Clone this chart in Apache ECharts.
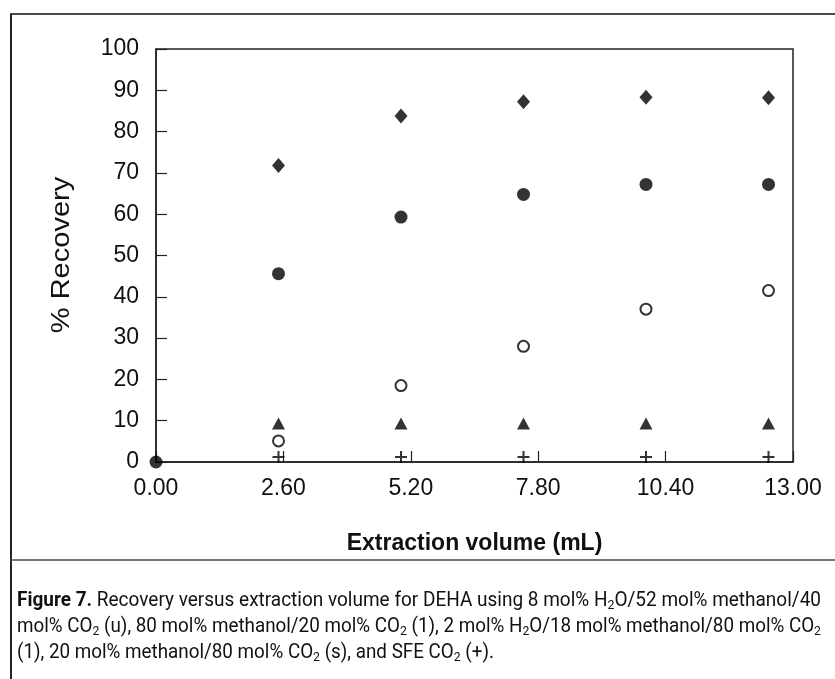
<!DOCTYPE html>
<html>
<head>
<meta charset="utf-8">
<script src="https://cdn.jsdelivr.net/npm/echarts@6/dist/echarts.min.js"></script>
<style>
  html, body { margin: 0; padding: 0; background: #fff; }
  #wrap { position: relative; width: 835px; height: 679px; overflow: hidden; }
  #chart { position: absolute; left: 0; top: 0; width: 835px; height: 679px; }
  #caption { position: absolute; left: 17px; width: 804px; top: 586px;
    font-family: Roboto, "Liberation Sans", sans-serif;
    font-size: 20px; line-height: 26px; color: #111; }
  #caption .ln { display: block; height: 26px; white-space: nowrap; }
  #caption .ln span { display: inline-block; transform-origin: 0 0; white-space: nowrap; }
  #caption sub { font-size: 13px; vertical-align: -3px; line-height: 0; }
</style>
</head>
<body>
<div id="wrap">
  <div id="chart"></div>
  <div id="caption">
    <div class="ln"><span><b>Figure 7.</b> Recovery versus extraction volume for DEHA using 8 mol% H<sub>2</sub>O/52 mol% methanol/40</span></div>
    <div class="ln"><span>mol% CO<sub>2</sub> (u), 80 mol% methanol/20 mol% CO<sub>2</sub> (1), 2 mol% H<sub>2</sub>O/18 mol% methanol/80 mol% CO<sub>2</sub></span></div>
    <div class="ln"><span>(1), 20 mol% methanol/80 mol% CO<sub>2</sub> (s), and SFE CO<sub>2</sub> (+).</span></div>
  </div>
</div>
<script>
// Data
const xTicksInterval = 2.6;
const xMax = 13;
const volumes = [2.5, 5.0, 7.5, 10.0, 12.5];
const seriesNames = [
  '8 mol% H2O/52 mol% methanol/40 mol% CO2',
  '80 mol% methanol/20 mol% CO2',
  '2 mol% H2O/18 mol% methanol/80 mol% CO2',
  '20 mol% methanol/80 mol% CO2',
  'SFE CO2'
];
const diamondVals = [71.8, 83.8, 87.2, 88.3, 88.2];
const filledCircleVals = [45.6, 59.3, 64.8, 67.2, 67.2];
const openCircleVals = [5.1, 18.5, 28.0, 37.0, 41.5];
const triangleVals = [9.3, 9.3, 9.3, 9.3, 9.3];
const plusVals = [1.2, 1.2, 1.2, 1.2, 1.2];
const originPoint = [0, 0];
const yAxisTitle = '% Recovery';
const xAxisTitle = 'Extraction volume (mL)';

function pairs(vals) { return volumes.map((v, i) => [v, vals[i]]); }

const chart = echarts.init(document.getElementById('chart'), null, { renderer: 'canvas' });
const FONT = '"Liberation Sans", Arial, Helvetica, sans-serif';
const plusPath = 'path://M5,0H7V5H12V7H7V12H5V7H0V5H5Z';

chart.setOption({
  animation: false,
  backgroundColor: '#fff',
  grid: { left: 156, top: 49, width: 637, height: 413, show: true, borderColor: '#222', borderWidth: 1.5, backgroundColor: 'transparent' },
  xAxis: {
    type: 'value', min: 0, max: xMax, interval: xTicksInterval,
    name: xAxisTitle, nameLocation: 'middle', nameGap: 70,
    nameTextStyle: { fontFamily: FONT, fontSize: 23, fontWeight: 'bold', color: '#111' },
    axisLine: { show: true, lineStyle: { color: '#222', width: 1.5 } },
    axisTick: { show: true, inside: true, length: 11, lineStyle: { color: '#222', width: 1.2 } },
    axisLabel: { fontFamily: FONT, fontSize: 23, color: '#111', margin: 15, formatter: v => v.toFixed(2) },
    splitLine: { show: false }
  },
  yAxis: {
    type: 'value', min: 0, max: 100, interval: 10,
    axisLine: { show: true, lineStyle: { color: '#222', width: 1.5 } },
    axisTick: { show: true, inside: true, length: 11, lineStyle: { color: '#222', width: 1.2 } },
    axisLabel: { fontFamily: FONT, fontSize: 23, color: '#111', margin: 17 },
    splitLine: { show: false }
  },
  series: [
    { name: seriesNames[0], type: 'scatter', symbol: 'diamond', symbolSize: [13, 15], data: pairs(diamondVals), itemStyle: { color: '#000' } },
    { name: seriesNames[2], type: 'scatter', symbol: 'circle', symbolSize: 11, data: pairs(openCircleVals), itemStyle: { color: '#fff', borderColor: '#000', borderWidth: 2 } },
    { name: seriesNames[3], type: 'scatter', symbol: 'triangle', symbolSize: [13, 12], data: pairs(triangleVals), itemStyle: { color: '#000' } },
    { name: seriesNames[4], type: 'scatter', symbol: plusPath, symbolSize: 12, data: pairs(plusVals), itemStyle: { color: '#000' } },
    { name: seriesNames[1], type: 'scatter', symbol: 'circle', symbolSize: 13, data: [originPoint].concat(pairs(filledCircleVals)), itemStyle: { color: '#000' } }
  ],
  graphic: [
    { type: 'line', shape: { x1: 10, y1: 14, x2: 835, y2: 14 }, style: { stroke: '#4a4a4a', lineWidth: 2 } },
    { type: 'line', shape: { x1: 11, y1: 14, x2: 11, y2: 679 }, style: { stroke: '#222', lineWidth: 2 } },
    { type: 'line', shape: { x1: 10, y1: 560, x2: 835, y2: 560 }, style: { stroke: '#4a4a4a', lineWidth: 1.5 } },
    { type: 'text', x: 62, y: 255, rotation: Math.PI / 2, scaleX: 1.16, scaleY: 1,
      style: { text: yAxisTitle, fontFamily: FONT, fontSize: 25, fontWeight: 'normal', fill: '#111', align: 'center', verticalAlign: 'middle' } }
  ]
});

// fit caption lines to the justified width of the printed caption
(function fitCaption() {
  const target = 804;
  const spans = document.querySelectorAll('#caption .ln span');
  let lastScale = 1;
  spans.forEach((s, i) => {
    const w = s.getBoundingClientRect().width;
    let k = target / w;
    if (i === spans.length - 1) k = lastScale;
    s.style.transform = 'scaleX(' + k + ')';
    lastScale = k;
  });
})();
</script>
</body>
</html>
